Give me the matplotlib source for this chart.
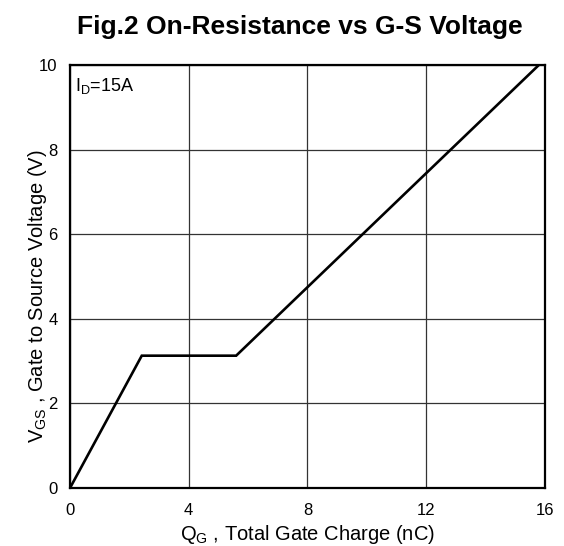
import matplotlib
matplotlib.use("Agg")
import matplotlib.pyplot as plt

plt.rcParams['font.family'] = ['Liberation Sans', 'DejaVu Sans']
plt.rcParams['mathtext.fontset'] = 'custom'
plt.rcParams['mathtext.rm'] = 'Liberation Sans'
plt.rcParams['mathtext.it'] = 'Liberation Sans'

qg = [0, 2.42, 5.6, 15.8]
vgs = [0, 3.13, 3.13, 10]
xticks = [0, 4, 8, 12, 16]
yticks = [0, 2, 4, 6, 8, 10]

fig = plt.figure(figsize=(5.64, 5.46), dpi=100)
ax = fig.add_axes([0.124, 0.106, 0.842, 0.775])
ax.plot(qg, vgs, color='black', lw=1.9, solid_joinstyle='miter')
ax.set_xlim(0, 16)
ax.set_ylim(0, 10)
ax.set_xticks(xticks)
ax.set_yticks(yticks)
ax.grid(True, color='#333333', lw=0.9)
ax.tick_params(length=0, labelsize=12)
ax.tick_params(axis='x', pad=11)
ax.tick_params(axis='y', pad=9)
for s in ax.spines.values():
    s.set_linewidth(1.6)
ax.set_xlabel(r'Q$_\mathrm{G}$ , Total Gate Charge (nC)', fontsize=14.5)
ax.xaxis.set_label_coords(0.5, -0.082)
ax.set_ylabel(r'V$_\mathrm{GS}$ , Gate to Source Voltage (V)', fontsize=14.5)
ax.yaxis.set_label_coords(-0.045, 0.454)
ax.text(0.01, 0.975, r'I$_\mathrm{D}$=15A', transform=ax.transAxes, fontsize=13, va='top', ha='left')
fig.text(0.532, 1 - 34 / 546, 'Fig.2 On-Resistance vs G-S Voltage', fontsize=19, fontweight='bold', ha='center', va='baseline')
fig.savefig('out.png', dpi=100)
